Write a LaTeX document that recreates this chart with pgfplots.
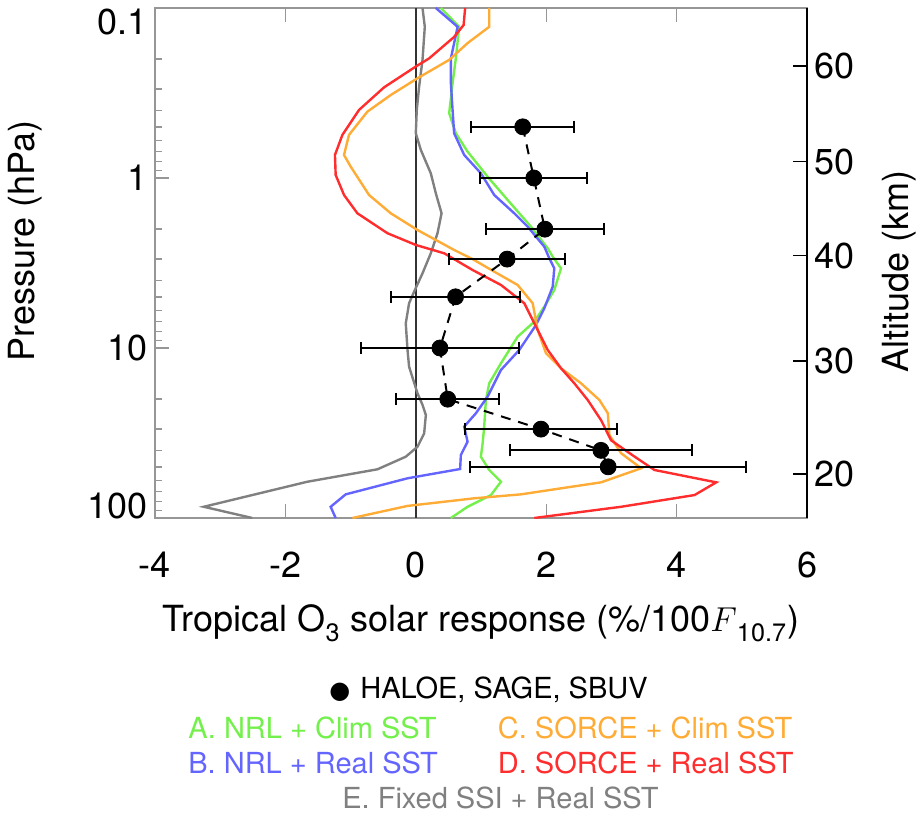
\documentclass[border=0pt]{standalone}
\usepackage{fontspec}
\setmainfont{TeX Gyre Heros}
\newfontfamily\dejavu{DejaVu Sans}
\usepackage{pgfplots}
\usepackage{pgfplotstable}
\pgfplotsset{compat=1.18}

\definecolor{cA}{RGB}{115,240,75}
\definecolor{cB}{RGB}{100,100,255}
\definecolor{cC}{RGB}{255,172,55}
\definecolor{cD}{RGB}{255,45,45}
\definecolor{cE}{RGB}{128,128,128}
\definecolor{axgray}{RGB}{150,150,150}

\newcommand\axfont{\fontsize{18}{21}\selectfont}
\newcommand\lgfont{\fontsize{14.5}{17}\selectfont}

% observations: x, pressure (hPa), 2-sigma
\pgfplotstableread{
x    p   err
1.64 0.5 0.79
1.81 1   0.82
1.98 2   0.90
1.40 3   0.89
0.61 5   0.99
0.37 10  1.21
0.49 20  0.79
1.92 30  1.17
2.84 40  1.39
2.95 50  2.12
}\obs

\begin{document}
\begin{tikzpicture}
\path[use as bounding box] (-77.5pt,-147.5pt) rectangle (380.5pt,259pt);
\begin{axis}[
  at={(0,0)}, anchor=south west,
  scale only axis, width=326pt, height=255pt,
  xmin=-4, xmax=6, ymin=0.1, ymax=100,
  ymode=log, y dir=reverse,
  xtick={-4,-2,0,2,4,6}, xticklabels={-4,-2,0,2,4,6},
  ytick={0.1,1,10,100},
  yticklabels={\raisebox{-13.5pt}[0pt][0pt]{0.1},1,10,\raisebox{0pt}[0pt][0pt]{100}},
  minor ytick={0.2,0.3,0.4,0.5,0.6,0.7,0.8,0.9,2,3,4,5,6,7,8,9,20,30,40,50,60,70,80,90},
  xtick pos=both, xticklabel pos=lower, ytick pos=left,
  tick align=inside, major tick length=7pt, minor tick length=3.5pt,
  tick style={axgray, line width=0.7pt},
  axis line style={axgray, line width=0.7pt},
  tick label style={font=\axfont},
  xticklabel shift=13.5pt,
  xlabel={Tropical O\raisebox{-2pt}{\textsubscript{3}} solar response (\%/100$F$\raisebox{-2pt}{\textsubscript{10.7}})},
  ylabel={Pressure (hPa)},
  label style={font=\axfont},
  xlabel style={at={(axis description cs:0.5,0)}, anchor=north, yshift=-40pt},
  ylabel style={at={(axis description cs:-0.1994,0.543)}, anchor=center},
]
\addplot[black!80, line width=0.8pt] coordinates {(0,0.1) (0,100)};

% E. Fixed SSI + Real SST
\addplot[cE, line width=1.2pt, mark=none] coordinates {
(0.103,0.1) (0.138,0.129) (0.103,0.202) (0.051,0.290) (0.015,0.398) (0,0.546)
(0.077,0.684) (0.230,0.938) (0.307,1.230) (0.395,1.613) (0.333,2.113) (0.230,2.773)
(0.103,3.636) (-0.026,4.667) (-0.103,5.455) (-0.154,7.16) (-0.127,10.27) (-0.103,12.88)
(0.026,18.48) (0.103,21.6) (0.154,24.8) (0.128,31.8) (0.026,38.1) (-0.154,43.6)
(-0.588,51.7) (-1.664,61.2) (-3.252,85.9) (-2.508,100)
};
% A. NRL + Clim SST
\addplot[cA, line width=1.2pt, mark=none] coordinates {
(0.384,0.1) (0.665,0.129) (0.614,0.198) (0.564,0.277) (0.512,0.416) (0.614,0.546)
(0.794,0.700) (1.101,0.983) (1.409,1.347) (1.766,1.934) (2.023,2.592) (2.100,2.904)
(2.227,3.398) (2.124,4.56) (1.971,5.715) (1.818,7.0) (1.562,8.58) (1.306,12.3)
(1.126,16.13) (1.075,20.23) (1.049,29.0) (1.025,36.4) (0.998,43.6) (1.126,52.2)
(1.306,61.2) (1.152,73.3) (0.794,85.9) (0.538,100)
};
% B. NRL + Real SST
\addplot[cB, line width=1.2pt, mark=none] coordinates {
(0.307,0.1) (0.641,0.129) (0.538,0.198) (0.538,0.277) (0.564,0.398) (0.588,0.546)
(0.742,0.732) (0.998,0.938) (1.203,1.259) (1.510,1.613) (1.716,1.934) (1.971,2.535)
(2.048,2.968) (2.124,3.398) (2.100,4.355) (1.971,5.842) (1.843,7.33) (1.587,10.27)
(1.306,13.47) (1.101,19.34) (0.922,24.2) (0.742,29.0) (0.794,35.6) (0.691,42.6)
(0.680,51.5) (-0.127,58.4) (-1.075,72.6) (-1.306,85.9) (-1.229,100)
};
% C. SORCE + Clim SST
\addplot[cC, line width=1.2pt, mark=none] coordinates {
(1.126,0.1) (1.126,0.129) (0.794,0.161) (0.512,0.202) (0.026,0.259) (-0.384,0.325)
(-0.742,0.407) (-1.025,0.558) (-1.101,0.732) (-0.998,0.858) (-0.717,1.259) (-0.384,1.613)
(0.026,2.023) (0.589,2.652) (0.871,3.0) (1.203,3.556) (1.562,4.259) (1.793,5.455)
(1.869,7.83) (1.997,10.74) (2.227,13.16) (2.535,16.14) (2.816,20.23) (2.945,24.2)
(2.969,32.5) (3.149,41.6) (3.456,51.0) (2.842,61.7) (2.227,66.9) (1.613,72.6)
(0.896,76.6) (-0.127,84.9) (-0.972,100)
};
% D. SORCE + Real SST
\addplot[cD, line width=1.2pt, mark=none] coordinates {
(0.757,0.1) (0.733,0.126) (0.588,0.148) (0.204,0.198) (0,0.221) (-0.487,0.293)
(-0.871,0.398) (-1.126,0.558) (-1.240,0.732) (-1.229,0.960) (-1.101,1.259) (-0.896,1.613)
(-0.435,2.113) (0,2.477) (0.435,2.773) (0.871,3.477) (1.306,4.259) (1.664,5.455)
(1.869,7.83) (2.023,10.27) (2.227,13.16) (2.432,16.14) (2.637,20.23) (2.842,26.6)
(2.995,34.9) (3.353,43.5) (3.661,52.2) (4.608,61.7) (4.275,73.3) (3.149,85.9) (1.817,100)
};
% HALOE, SAGE, SBUV
\addplot[black, line width=1pt, dash pattern=on 5pt off 4pt, mark=none] table[x=x, y=p] {\obs};
\addplot[black, only marks, mark=*, mark size=4pt,
  error bars/.cd, x dir=both, x explicit, error mark=|,
  error bar style={solid, line width=1pt, black},
  error mark options={solid, black, mark size=3pt, line width=1pt}]
  table[x=x, y=p, x error=err] {\obs};
\end{axis}

% right-hand altitude axis
\begin{axis}[
  at={(0,0)}, anchor=south west,
  scale only axis, width=326pt, height=255pt,
  xmin=-4, xmax=6, ymin=0.1, ymax=100,
  ymode=log, y dir=reverse,
  axis x line=none, axis y line*=right,
  axis line style={black, line width=0.8pt, -},
  ytick={0.2193,0.8017,2.864,11.92,55.1},
  yticklabels={60,50,40,30,20},
  minor ytick={},
  tick align=inside, major tick length=7pt,
  tick style={black, line width=0.8pt},
  tick label style={font=\axfont},
  ylabel={Altitude (km)},
  label style={font=\axfont},
  ylabel style={at={(axis description cs:1.141,0.484)}, anchor=center},
]
\addplot[draw=none] coordinates {(0,1)};
\end{axis}

% legend
\node[anchor=base, font=\lgfont] at (166.75pt,-90.15pt) {{\dejavu\fontsize{12}{14}\selectfont ●}\hspace{1pt} HALOE, SAGE, SBUV};
\node[anchor=base west, font=\lgfont, text=cA, inner sep=0pt] at (16.5pt,-110.5pt) {A. NRL + Clim SST};
\node[anchor=base west, font=\lgfont, text=cC, inner sep=0pt] at (171.25pt,-110.5pt) {C. SORCE + Clim SST};
\node[anchor=base west, font=\lgfont, text=cB, inner sep=0pt] at (16.5pt,-127.65pt) {B. NRL + Real SST};
\node[anchor=base west, font=\lgfont, text=cD, inner sep=0pt] at (171.25pt,-127.65pt) {D. SORCE + Real SST};
\node[anchor=base, font=\lgfont, text=cE, inner sep=0pt] at (172.75pt,-145.2pt) {E. Fixed SSI + Real SST};
\end{tikzpicture}
\end{document}
